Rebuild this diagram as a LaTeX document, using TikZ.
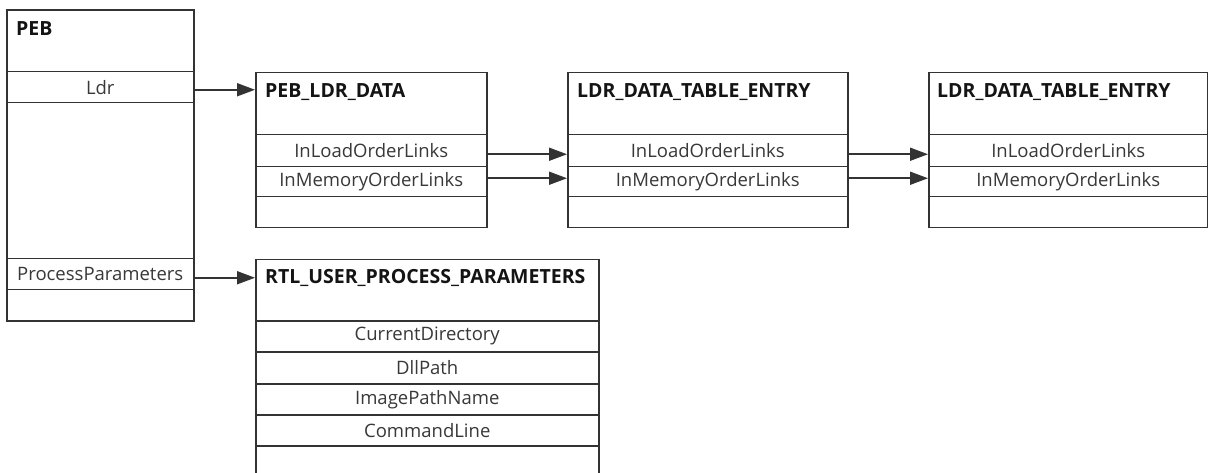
\documentclass[tikz,border=0pt]{standalone}
\usepackage{fontspec}
\setmainfont{Open Sans}
\usetikzlibrary{arrows.meta}
\definecolor{linec}{HTML}{333333}
\definecolor{textc}{HTML}{383838}
\definecolor{titlec}{HTML}{141414}
\begin{document}
\begin{tikzpicture}[x=1pt,y=-1pt,
  frame/.style={draw=linec, line width=1.5pt, anchor=north west, inner sep=0pt, fill=white},
  field/.style={draw=linec, line width=1.5pt, anchor=north west, inner sep=0pt,
    font=\fontsize{18.5}{20}\selectfont, text=textc},
  title/.style={anchor=west, inner sep=0pt, font=\bfseries\fontsize{19.5}{22}\selectfont, text=titlec},
  link/.style={draw=linec, line width=1.8pt, -{Triangle[length=18pt,width=13pt]}}]
\useasboundingbox (0,0) rectangle (1208,473);
\clip (0,0) rectangle (1208,473);

% PEB
\node[frame, minimum width=187pt, minimum height=310.5pt] (peb) at (6,9.5) {};
\node[title] (pebT) at (16,29) {PEB};
\node[field, minimum width=187pt, minimum height=31pt] (ldr) at (6,71) {Ldr};
\node[field, minimum width=187pt, minimum height=31pt] (pp) at (6,258) {ProcessParameters};

% PEB_LDR_DATA
\node[frame, minimum width=231pt, minimum height=155pt] (ldrdata) at (255,72) {};
\node[title] (ldrdataT) at (265,92) {PEB\_LDR\_DATA};
\node[field, minimum width=231pt, minimum height=32pt] (ld1) at (255,134) {InLoadOrderLinks};
\node[field, minimum width=231pt, minimum height=30pt] (ld2) at (255,166) {InMemoryOrderLinks};

% first LDR_DATA_TABLE_ENTRY
\node[frame, minimum width=280pt, minimum height=155pt] (ea) at (567,72) {};
\node[title] (eaT) at (577,92) {LDR\_DATA\_TABLE\_ENTRY};
\node[field, minimum width=280pt, minimum height=32pt] (ea1) at (567,134) {InLoadOrderLinks};
\node[field, minimum width=280pt, minimum height=30pt] (ea2) at (567,166) {InMemoryOrderLinks};

% second LDR_DATA_TABLE_ENTRY
\node[frame, minimum width=279pt, minimum height=155pt] (eb) at (928,72) {};
\node[title] (ebT) at (937,92) {LDR\_DATA\_TABLE\_ENTRY};
\node[field, minimum width=279pt, minimum height=32pt] (eb1) at (928,134) {InLoadOrderLinks};
\node[field, minimum width=279pt, minimum height=30pt] (eb2) at (928,166) {InMemoryOrderLinks};

% RTL_USER_PROCESS_PARAMETERS (runs off the lower edge)
\node[frame, minimum width=343pt, minimum height=240pt] (rtl) at (255,259) {};
\node[title] (rtlT) at (265,278) {RTL\_USER\_PROCESS\_PARAMETERS};
\node[field, minimum width=343pt, minimum height=31pt] (r1) at (255,320) {CurrentDirectory};
\node[field, minimum width=343pt, minimum height=32pt] (r2) at (255,351) {DllPath};
\node[field, minimum width=343pt, minimum height=31pt] (r3) at (255,383) {ImagePathName};
\node[field, minimum width=343pt, minimum height=31pt] (r4) at (255,414) {CommandLine};

% pointers
\coordinate (s0) at ([yshift=-2.5pt]ldr.east);
\coordinate (s1) at ([yshift=-3.5pt]ld1.east);
\coordinate (s2) at ([yshift=3.5pt]ld2.east);
\coordinate (s3) at ([yshift=-3.5pt]ea1.east);
\coordinate (s4) at ([yshift=3.5pt]ea2.east);
\coordinate (s5) at ([yshift=-3.5pt]pp.east);
\draw[link] (s0) -- (s0 -| ldrdata.west);
\draw[link] (s1) -- (s1 -| ea.west);
\draw[link] (s2) -- (s2 -| ea.west);
\draw[link] (s3) -- (s3 -| eb.west);
\draw[link] (s4) -- (s4 -| eb.west);
\draw[link] (s5) -- (s5 -| rtl.west);
\end{tikzpicture}
\end{document}
